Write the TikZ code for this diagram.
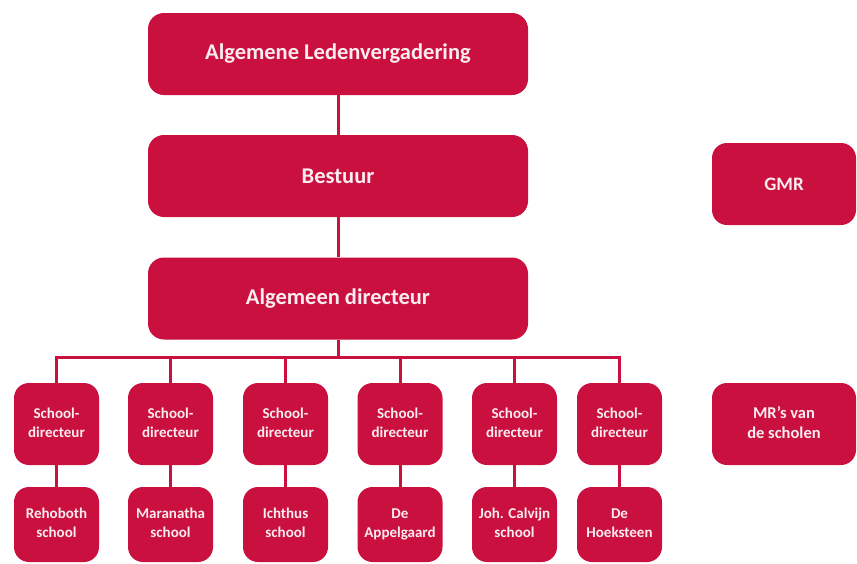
\documentclass[tikz,border=0pt]{standalone}
\usepackage{fontspec}
\setmainfont{Carlito}
\definecolor{crim}{RGB}{202,16,62}
\definecolor{txt}{RGB}{250,236,240}
\begin{document}
\begin{tikzpicture}[x=1pt,y=-1pt,
  box/.style={fill=crim,draw=none,rounded corners=16pt,inner sep=0pt,text=txt,font=\bfseries,align=center},
  bigbox/.style={box,minimum width=380pt,minimum height=82pt,font=\fontsize{22.5}{26}\selectfont\bfseries},
  smallbox/.style={box,minimum width=85pt,minimum height=82pt,rounded corners=15pt,font=\fontsize{15}{19}\selectfont\bfseries},
  schoolbox/.style={smallbox,minimum height=75pt},
  sidebox/.style={box,minimum width=144pt,minimum height=82pt,rounded corners=15pt},
  conn/.style={draw=crim,line width=3pt}]
\useasboundingbox (0,0) rectangle (857,563);
\node[bigbox] (alv) at (338,54) {Algemene Ledenvergadering};
\node[bigbox] (best) at (338,176) {Bestuur};
\node[bigbox] (ad) at (338,298.5) {Algemeen directeur};
\node[sidebox,font=\fontsize{19}{23}\selectfont\bfseries] (gmr) at (784,184) {GMR};
\node[sidebox,font=\fontsize{16.5}{20}\selectfont\bfseries] (mr) at (784,424) {\strut MR's van\\de scholen\strut};
\foreach \i/\x/\s in {1/56.5/{Rehoboth\\school},2/170.5/{Maranatha\\school},3/285.5/{Ichthus\\school},4/400/{De\\Appelgaard},5/514.5/{Joh. Calvijn\\school},6/619.5/{De\\Hoeksteen}}{
  \node[smallbox] (d\i) at (\x,424) {\strut School-\\directeur\strut};
  \node[schoolbox] (s\i) at (\x,524.5) {\strut\s\strut};
  \draw[conn] (d\i.south) -- (s\i.north);
}
\coordinate (bar) at (338,357);
\draw[conn] (alv.south) -- (best.north);
\draw[conn] (best.south) -- (ad.north);
\draw[conn] (ad.south) -- (bar);
\draw[conn] (d1.north) |- (bar) -| (d6.north);
\foreach \i in {2,3,4,5}{\draw[conn] (d\i.north) -- (d\i.north |- bar);}
\end{tikzpicture}
\end{document}
